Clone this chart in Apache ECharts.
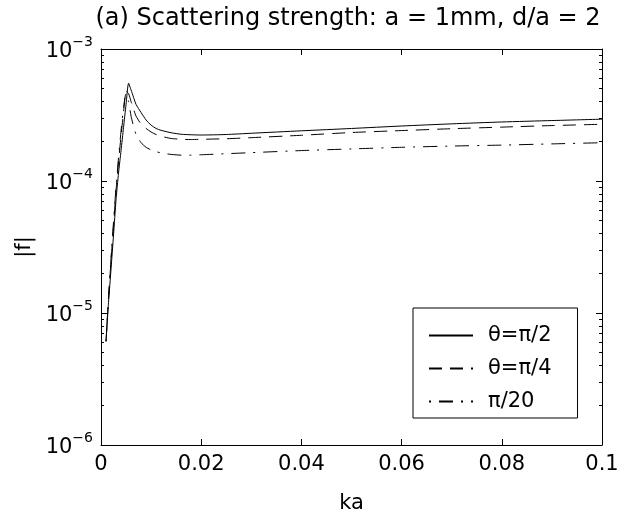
<!DOCTYPE html>
<html><head><meta charset="utf-8">
<script src="https://cdn.jsdelivr.net/npm/echarts@6/dist/echarts.min.js"></script>
<style>html,body{margin:0;padding:0;background:#fff}#c{width:624px;height:519px}</style>
</head><body><div id="c"></div><script>
const ka = [0.001,0.0015,0.002,0.0025,0.003,0.0035,0.004,0.0045,0.005,0.0055,0.006,0.0065,0.007,0.008,0.009,0.010,0.011,0.012,0.014,0.016,0.018,0.020,0.025,0.030,0.040,0.050,0.060,0.070,0.080,0.090,0.100];
const fPi2 = [6.1e-6,1.2e-5,2.15e-5,3.9e-5,7.2e-5,1.15e-4,1.7e-4,2.55e-4,3.8e-4,5.5e-4,4.9e-4,4.3e-4,3.8e-4,3.3e-4,2.9e-4,2.65e-4,2.5e-4,2.42e-4,2.32e-4,2.26e-4,2.24e-4,2.23e-4,2.25e-4,2.30e-4,2.40e-4,2.50e-4,2.61e-4,2.71e-4,2.80e-4,2.87e-4,2.94e-4];
const fPi4 = [6.1e-6,1.3e-5,2.5e-5,4.6e-5,8.5e-5,1.4e-4,2.2e-4,3.3e-4,4.8e-4,4.6e-4,4.0e-4,3.5e-4,3.1e-4,2.7e-4,2.5e-4,2.35e-4,2.25e-4,2.18e-4,2.10e-4,2.07e-4,2.06e-4,2.07e-4,2.09e-4,2.13e-4,2.22e-4,2.33e-4,2.41e-4,2.49e-4,2.56e-4,2.63e-4,2.69e-4];
const fPi20 = [6.1e-6,1.3e-5,2.6e-5,4.9e-5,9.0e-5,1.5e-4,2.4e-4,3.6e-4,4.6e-4,4.0e-4,3.1e-4,2.6e-4,2.25e-4,1.95e-4,1.8e-4,1.72e-4,1.67e-4,1.63e-4,1.59e-4,1.57e-4,1.57e-4,1.58e-4,1.61e-4,1.64e-4,1.70e-4,1.75e-4,1.80e-4,1.84e-4,1.87e-4,1.91e-4,1.95e-4];
const seriesNames = ['θ=π/2','θ=π/4','π/20'];
const xTickLabels = ['0','0.02','0.04','0.06','0.08','0.1'];
const yDecades = [1e-6,1e-5,1e-4,1e-3];
const yMinor = [];
for (let d = 0; d < 3; d++) for (let m = 2; m <= 9; m++) yMinor.push(m * yDecades[d]);

const FONT = 'DejaVu Sans';
const chart = echarts.init(document.getElementById('c'));
const yBase = {type:'log', logBase:10, min:1e-6, max:1e-3, splitLine:{show:false}};
const line = {show:true, lineStyle:{color:'#000', width:1}};
function yAx(pos, vals, len, labels, axisLine) {
  return Object.assign({}, yBase, {
    position: pos,
    axisLine: axisLine ? line : {show:false},
    axisTick: {show:true, inside:true, length:len, customValues: vals, lineStyle:{color:'#000'}},
    axisLabel: labels ? {
      show:true, margin:8, customValues: yDecades,
      formatter: v => '{b|10}{s|−' + Math.round(-Math.log10(v)) + '}',
      rich: {
        b:{fontFamily:FONT, fontSize:21, color:'#000', verticalAlign:'bottom', padding:[6,0,0,0]},
        s:{fontFamily:FONT, fontSize:14, color:'#000', verticalAlign:'top'}
      }
    } : {show:false},
    name: labels ? '|f|' : '',
    nameLocation:'middle', nameGap:52,
    nameTextStyle:{fontFamily:FONT, fontSize:21, color:'#000'}
  });
}
const option = {
  animation:false,
  backgroundColor:'#fff',
  title:{text:'(a) Scattering strength: a = 1mm, d/a = 2', left:343, top:2, textAlign:'center',
    textStyle:{fontFamily:FONT, fontSize:24, fontWeight:'normal', color:'#000'}},
  grid:{left:101, right:22, top:49, bottom:74},
  xAxis:[
    {type:'value', min:0, max:0.1, interval:0.02, position:'bottom', splitLine:{show:false},
     axisLine:line, axisTick:{inside:true, length:6, lineStyle:{color:'#000'}},
     axisLabel:{margin:9, fontFamily:FONT, fontSize:21, color:'#000',
       formatter: v => xTickLabels[Math.round(v/0.02)]},
     name:'ka', nameLocation:'middle', nameGap:48,
     nameTextStyle:{fontFamily:FONT, fontSize:21, color:'#000'}},
    {type:'value', min:0, max:0.1, interval:0.02, position:'top', splitLine:{show:false},
     axisLine:line, axisTick:{inside:true, length:6, lineStyle:{color:'#000'}}, axisLabel:{show:false}}
  ],
  yAxis:[
    yAx('left', yDecades, 6, true, true),
    yAx('left', yMinor, 3, false, false),
    yAx('right', yDecades, 6, false, true),
    yAx('right', yMinor, 3, false, false)
  ],
  legend:{
    orient:'vertical', left:413, top:308, itemWidth:44, itemHeight:14, itemGap:12,
    padding:[17,26,6,15], borderColor:'#000', borderWidth:1, backgroundColor:'#fff',
    itemStyle:{opacity:0},
    textStyle:{fontFamily:FONT, fontSize:21, color:'#000', padding:[0,0,0,10]},
    data: seriesNames
  },
  series:[
    {name:seriesNames[0], type:'line', symbol:'none', data: ka.map((k,i)=>[k,fPi2[i]]), lineStyle:{color:'#000', width:1, type:'solid'}, itemStyle:{color:'#000'}, smooth:0.2},
    {name:seriesNames[1], type:'line', symbol:'none', data: ka.map((k,i)=>[k,fPi4[i]]), lineStyle:{color:'#000', width:1, type:[13,8]}, itemStyle:{color:'#000'}, smooth:0.2},
    {name:seriesNames[2], type:'line', symbol:'none', data: ka.map((k,i)=>[k,fPi20[i]]), lineStyle:{color:'#000', width:1, type:[2,8,14,8]}, itemStyle:{color:'#000'}, smooth:0.2}
  ]
};
chart.setOption(option);
</script></body></html>
